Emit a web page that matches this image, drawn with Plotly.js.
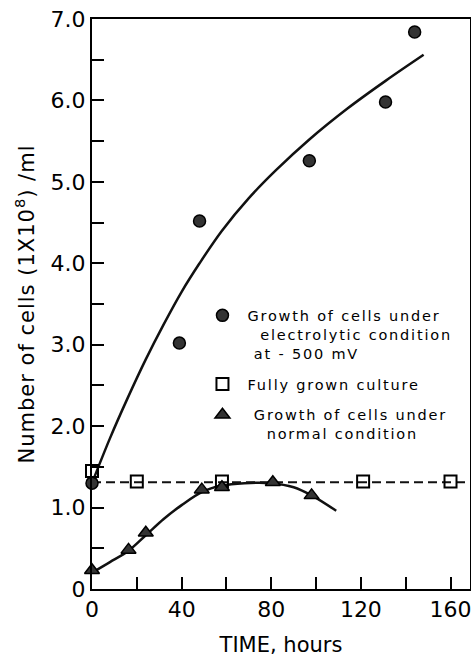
<!DOCTYPE html>
<html>
<head>
<meta charset="utf-8">
<script src="https://cdn.plot.ly/plotly-3.0.1.min.js"></script>
<style>
html,body{margin:0;padding:0;background:#fff;}
#chart{width:471px;height:661px;}
text.legendtext{letter-spacing:1.8px !important;}
text.ytitle{letter-spacing:1px !important;}
</style>
</head>
<body>
<div id="chart"></div>
<script>
// Measured points
var electroX = [0, 39, 48, 97, 131, 144];
var electroY = [1.3, 3.02, 4.52, 5.26, 5.98, 6.84];
// Fitted curve (electrolytic)
var electroFitX = [0, 8, 16, 24, 32, 40, 48, 58, 70, 82, 97, 114, 131, 148];
var electroFitY = [1.3, 1.85, 2.35, 2.82, 3.25, 3.65, 4.0, 4.4, 4.8, 5.14, 5.52, 5.9, 6.24, 6.56];
// Fully grown culture
var fullX = [0, 20, 58, 121, 160];
var fullY = [1.45, 1.32, 1.32, 1.32, 1.32];
var fullLineX = [0, 169];
var fullLineY = [1.31, 1.31];
// Normal condition
var normalX = [0, 16.3, 24, 49, 58, 80.7, 98];
var normalY = [0.23, 0.48, 0.69, 1.22, 1.25, 1.31, 1.15];
var normalFitX = [0, 8, 16.3, 24, 32, 40, 49, 58, 68, 80, 90, 98, 109];
var normalFitY = [0.2, 0.33, 0.47, 0.66, 0.86, 1.03, 1.19, 1.27, 1.3, 1.3, 1.25, 1.15, 0.96];
// Ticks
var yTickVals = [0, 1, 2, 3, 4, 5, 6, 7];
var yTickText = ['0', '1.0', '2.0', '3.0', '4.0', '5.0', '6.0', '7.0'];
var xTickVals = [0, 40, 80, 120, 160];
var xTickText = ['0', '40', '80', '120', '160'];

var NB = '\u00A0';
var traces = [
  {x: fullLineX, y: fullLineY, mode: 'lines', line: {color: '#111', width: 2, dash: '9px,5px'}, showlegend: false, hoverinfo: 'skip', cliponaxis: false},
  {x: electroFitX, y: electroFitY, mode: 'lines', line: {color: '#111', width: 2.5, shape: 'spline', smoothing: 1}, showlegend: false},
  {x: normalFitX, y: normalFitY, mode: 'lines', line: {color: '#111', width: 2.5, shape: 'spline', smoothing: 1}, showlegend: false},
  {x: fullX, y: fullY, mode: 'markers', name: 'Fully' + NB + 'grown culture', legendgroup: 'b', legendrank: 2,
   marker: {symbol: 'square-open', size: 12, color: '#000', line: {width: 2}}, cliponaxis: false},
  {x: electroX, y: electroY, mode: 'markers', name: 'Growth of cells under<br>' + NB+NB + 'electrolytic condition<br>' + NB + 'at - 500 mV',
   legendgroup: 'a', legendrank: 1, marker: {symbol: 'circle', size: 12, color: '#333', line: {color: '#000', width: 1.5}}, cliponaxis: false},
  {x: normalX, y: normalY, mode: 'markers', name: NB + 'Growth of cells under<br>' + NB+NB+NB + 'normal condition', legendgroup: 'c', legendrank: 3,
   marker: {symbol: 'triangle-up', size: 13, color: '#333', line: {color: '#000', width: 1.5}}, cliponaxis: false}
];

var layout = {
  width: 471, height: 661,
  margin: {l: 92, r: 1, t: 19, b: 72},
  paper_bgcolor: '#fff', plot_bgcolor: '#fff',
  font: {family: 'DejaVu Sans', color: '#000'},
  showlegend: true,
  legend: {x: 0.279, y: 0.508, xanchor: 'left', yanchor: 'top', bgcolor: 'rgba(0,0,0,0)', valign: 'top',
           font: {family: 'DejaVu Sans', size: 14.5, color: '#000'}, tracegroupgap: 9, itemwidth: 40, traceorder: 'grouped'},
  xaxis: {
    range: [0, 168.7], tickmode: 'array', tickvals: xTickVals, ticktext: xTickText, ticklabeloverflow: 'allow',
    ticks: 'inside', ticklen: 12, tickwidth: 2, tickcolor: '#000',
    minor: {dtick: 20, tick0: 0, ticks: 'inside', ticklen: 12, tickwidth: 2, tickcolor: '#000'},
    showline: true, linecolor: '#000', linewidth: 2, mirror: true, showgrid: false, zeroline: false,
    tickfont: {family: 'DejaVu Sans', size: 22},
    title: {text: 'TIME, hours', font: {family: 'DejaVu Sans', size: 21}, standoff: 16}
  },
  yaxis: {
    range: [0, 7], tickmode: 'array', tickvals: yTickVals, ticktext: yTickText,
    ticks: 'inside', ticklen: 12, tickwidth: 2, tickcolor: '#000',
    minor: {dtick: 0.5, tick0: 0, ticks: 'inside', ticklen: 12, tickwidth: 2, tickcolor: '#000'},
    showline: true, linecolor: '#000', linewidth: 2, mirror: true, showgrid: false, zeroline: false,
    tickfont: {family: 'DejaVu Sans', size: 22},
    title: {text: 'Number of cells (1X10<sup>8</sup>) /ml' + NB + NB, font: {family: 'DejaVu Sans', size: 21}, standoff: 10}
  }
};

Plotly.newPlot('chart', traces, layout, {staticPlot: true});
</script>
</body>
</html>
